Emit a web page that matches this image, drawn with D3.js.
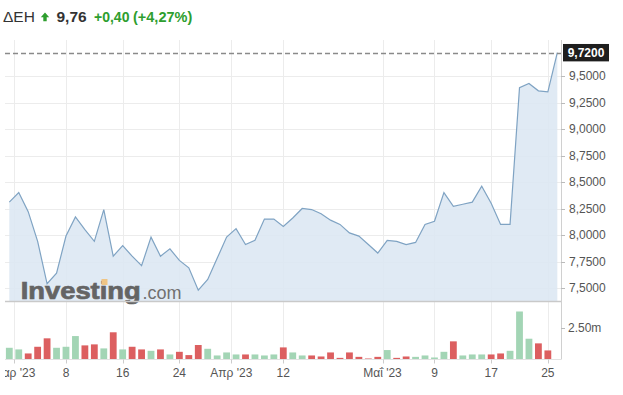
<!DOCTYPE html>
<html><head><meta charset="utf-8">
<script src="https://cdn.jsdelivr.net/npm/d3@7"></script>
<style>
body{margin:0;background:#fff}
svg{display:block;font-family:Arial,"Liberation Sans",sans-serif}
</style>
</head><body>
<svg id="chart" width="623" height="395"></svg>
<script>
// ---------- data ----------
const symbol = "ΔΕΗ";
const lastPrice = "9,76";
const changeAbs = "+0,40";
const changePct = "(+4,27%)";

const dates = [
  "2023-02-28","2023-03-01","2023-03-02","2023-03-03","2023-03-06","2023-03-07","2023-03-08","2023-03-09","2023-03-10",
  "2023-03-13","2023-03-14","2023-03-15","2023-03-16","2023-03-17","2023-03-20","2023-03-21","2023-03-22","2023-03-23",
  "2023-03-24","2023-03-27","2023-03-28","2023-03-29","2023-03-30","2023-03-31",
  "2023-04-03","2023-04-04","2023-04-05","2023-04-06","2023-04-11","2023-04-12","2023-04-13","2023-04-18","2023-04-19",
  "2023-04-20","2023-04-21","2023-04-24","2023-04-25","2023-04-26","2023-04-27","2023-04-28",
  "2023-05-02","2023-05-03","2023-05-04","2023-05-05","2023-05-08","2023-05-09","2023-05-10","2023-05-11","2023-05-12",
  "2023-05-15","2023-05-16","2023-05-17","2023-05-18","2023-05-19","2023-05-22","2023-05-23","2023-05-24","2023-05-25",
  "2023-05-26"
];
const prices = [
  8.31,8.40,8.22,7.94,7.54,7.64,7.99,8.17,8.05,
  7.94,8.24,7.80,7.90,7.80,7.71,7.98,7.80,7.87,
  7.76,7.69,7.48,7.58,7.78,7.98,
  8.06,7.91,7.95,8.15,8.15,8.08,8.16,8.25,8.24,
  8.20,8.14,8.10,8.02,7.99,7.91,7.83,
  7.95,7.94,7.91,7.93,8.10,8.13,8.40,8.27,8.29,
  8.31,8.46,8.30,8.10,8.10,9.39,9.43,9.36,9.35,
  9.72
];
// volume in millions (no bar yet for the last session)
const volumes = [
  0.93,0.80,0.48,1.01,1.68,0.93,1.01,1.86,1.12,1.20,
  0.88,2.16,0.80,1.01,0.80,0.69,0.80,0.40,0.61,0.35,
  1.15,0.85,0.32,0.56,0.40,0.40,0.40,0.32,0.40,0.96,
  0.56,0.32,0.32,0.24,0.56,0.13,0.56,0.21,0.08,0.21,
  0.75,0.13,0.24,0.21,0.32,0.16,0.61,1.44,0.32,0.40,
  0.40,0.40,0.48,0.69,3.81,1.65,1.28,0.72
];
const priceTicks = [7.5,7.75,8.0,8.25,8.5,8.75,9.0,9.25,9.5];
const volumeTicks = [2.5];
const xTickDates = ["2023-03-01","2023-03-08","2023-03-16","2023-03-24","2023-04-01","2023-04-12","2023-05-01","2023-05-09","2023-05-17","2023-05-25"];
const xTickLabels = ["Μαρ '23","8","16","24","Απρ '23","12","Μαΐ '23","9","17","25"];

// ---------- setup ----------
const svg = d3.select("#chart");
const plotL = 5, plotR = 561, plotT = 40, priceBottom = 301, volBottom = 359.5;

const gr = d3.formatLocale({decimal:",", thousands:".", grouping:[3], currency:["","€"]});
const fmtP = gr.format(".4f");

const x = d3.scaleLinear().domain([0, dates.length - 1]).range([9.3, 557.3]);
const yP = d3.scaleLinear().domain([7.5, 9.5]).range([288, 76]);
const yV = d3.scaleLinear().domain([0, 2.5]).range([volBottom, 328]);

function tickPos(ds) {
  const d = new Date(ds + "T00:00:00");
  if (d.getDate() === 1) {
    const i = dates.findIndex(v => v >= ds);
    return i - 0.5;
  }
  return dates.indexOf(ds);
}

// clip (the reference crops the first month label at the plot's left edge)
const defs = svg.append("defs");
defs.append("clipPath").attr("id","clipX").append("rect")
  .attr("x", plotL).attr("y", 360).attr("width", plotR - plotL).attr("height", 35);

// ---------- gridlines ----------
const grid = svg.append("g");
grid.selectAll("line.h").data(priceTicks).join("line")
  .attr("x1", plotL).attr("x2", plotR)
  .attr("y1", d => Math.round(yP(d)) + 0.5).attr("y2", d => Math.round(yP(d)) + 0.5)
  .attr("stroke", "#ececec").attr("stroke-width", 1);
grid.selectAll("line.v").data(xTickDates).join("line")
  .attr("x1", d => Math.round(x(tickPos(d))) + 0.5).attr("x2", d => Math.round(x(tickPos(d))) + 0.5)
  .attr("y1", plotT).attr("y2", volBottom)
  .attr("stroke", "#ececec").attr("stroke-width", 1);

// ---------- area + line ----------
const area = d3.area().x((d, i) => x(i)).y0(priceBottom).y1(d => yP(d));
const line = d3.line().x((d, i) => x(i)).y(d => yP(d));
svg.append("path").datum(prices).attr("d", area).attr("fill", "#dde8f3").attr("fill-opacity", 0.9);

// watermark
const wm = svg.append("g");
wm.append("text").attr("x", 20.7).attr("y", 299.3)
  .attr("font-size", 23).attr("font-weight", "bold").attr("fill", "#646464")
  .attr("stroke", "#646464").attr("stroke-width", 0.7)
  .attr("textLength", 120).attr("lengthAdjust", "spacingAndGlyphs")
  .text("Investing");
wm.append("rect").attr("x", 101.5).attr("y", 279).attr("width", 6).attr("height", 6)
  .attr("fill", "#efc585");
wm.append("text").attr("x", 142.5).attr("y", 299.3)
  .attr("font-size", 17.5).attr("fill", "#707070")
  .attr("textLength", 39).attr("lengthAdjust", "spacingAndGlyphs")
  .text(".com");

svg.append("path").datum(prices).attr("d", line)
  .attr("fill", "none").attr("stroke", "#7fa3c3").attr("stroke-width", 1.2);

// pane separator
svg.append("line").attr("x1", plotL).attr("x2", plotR).attr("y1", priceBottom + 0.5).attr("y2", priceBottom + 0.5)
  .attr("stroke", "#c9c9c9").attr("stroke-width", 1.5);

// ---------- volume bars ----------
const bw = 6.8;
svg.append("g").selectAll("rect").data(volumes).join("rect")
  .attr("x", (d, i) => x(i) - bw / 2)
  .attr("width", bw)
  .attr("y", d => yV(d))
  .attr("height", d => volBottom - yV(d))
  .attr("fill", (d, i) => (i === 0 || prices[i] >= prices[i - 1]) ? "#a3d5b5" : "#dc5f60");

// bottom baseline
svg.append("line").attr("x1", plotL).attr("x2", plotR).attr("y1", volBottom).attr("y2", volBottom)
  .attr("stroke", "#e2e2e2");

// ---------- right axis ----------
svg.append("line").attr("x1", plotR + 0.5).attr("x2", plotR + 0.5).attr("y1", plotT).attr("y2", volBottom)
  .attr("stroke", "#d0d0d0");
const ra = svg.append("g");
ra.selectAll("line").data(priceTicks).join("line")
  .attr("x1", plotR).attr("x2", plotR + 4)
  .attr("y1", d => Math.round(yP(d)) + 0.5).attr("y2", d => Math.round(yP(d)) + 0.5)
  .attr("stroke", "#bbb");
ra.selectAll("text").data(priceTicks).join("text")
  .attr("x", 569).attr("y", d => yP(d)).attr("dy", "0.35em")
  .attr("font-size", 12).attr("fill", "#555")
  .text(d => fmtP(d));

const va = svg.append("g");
va.selectAll("line").data(volumeTicks).join("line")
  .attr("x1", plotR).attr("x2", plotR + 4)
  .attr("y1", d => Math.round(yV(d)) + 0.5).attr("y2", d => Math.round(yV(d)) + 0.5)
  .attr("stroke", "#bbb");
va.selectAll("text").data(volumeTicks).join("text")
  .attr("x", 568).attr("y", d => yV(d)).attr("dy", "0.35em")
  .attr("font-size", 12).attr("fill", "#555")
  .text(d => d3.format(".2f")(d) + "m");

// last price dashed line + label
const lastV = prices[prices.length - 1];
svg.append("line").attr("x1", plotL).attr("x2", plotR)
  .attr("y1", Math.round(yP(lastV)) + 0.5).attr("y2", Math.round(yP(lastV)) + 0.5)
  .attr("stroke", "#8a8a8a").attr("stroke-width", 1.3).attr("stroke-dasharray", "5,3");
svg.append("rect").attr("x", 563).attr("y", yP(lastV) - 8.7).attr("width", 46).attr("height", 17.4)
  .attr("fill", "#1e1e1e");
svg.append("text").attr("x", 586).attr("y", yP(lastV)).attr("dy", "0.36em")
  .attr("text-anchor", "middle").attr("font-size", 12).attr("font-weight", "bold").attr("fill", "#fff")
  .text(fmtP(lastV));

// ---------- x axis ----------
const xa = svg.append("g");
xa.selectAll("line").data(xTickDates).join("line")
  .attr("x1", d => Math.round(x(tickPos(d))) + 0.5).attr("x2", d => Math.round(x(tickPos(d))) + 0.5)
  .attr("y1", volBottom).attr("y2", volBottom + 4)
  .attr("stroke", "#ccc");
xa.append("g").attr("clip-path", "url(#clipX)")
  .selectAll("text").data(xTickDates).join("text")
  .attr("x", d => x(tickPos(d))).attr("y", 377)
  .attr("text-anchor", "middle").attr("font-size", 12).attr("fill", "#555")
  .text((d, i) => xTickLabels[i]);

// ---------- header ----------
const hd = svg.append("g");
hd.append("text").attr("x", 3).attr("y", 21.5).attr("font-size", 15.5).attr("fill", "#333").text(symbol);
hd.append("path").attr("d", "M40.8,17.2 L45,12.4 L49.2,17.2 L46.7,17.2 L46.7,21.3 L43.3,21.3 L43.3,17.2 Z")
  .attr("fill", "#2e9e2e");
hd.append("text").attr("x", 56.5).attr("y", 21.5).attr("font-size", 15.5).attr("font-weight", "bold").attr("fill", "#333").text(lastPrice);
hd.append("text").attr("x", 94).attr("y", 21.5).attr("font-size", 14).attr("font-weight", "bold").attr("fill", "#2e9e2e").text(changeAbs);
hd.append("text").attr("x", 133).attr("y", 21.5).attr("font-size", 14.5).attr("font-weight", "bold").attr("fill", "#2e9e2e").text(changePct);
</script>
</body></html>
